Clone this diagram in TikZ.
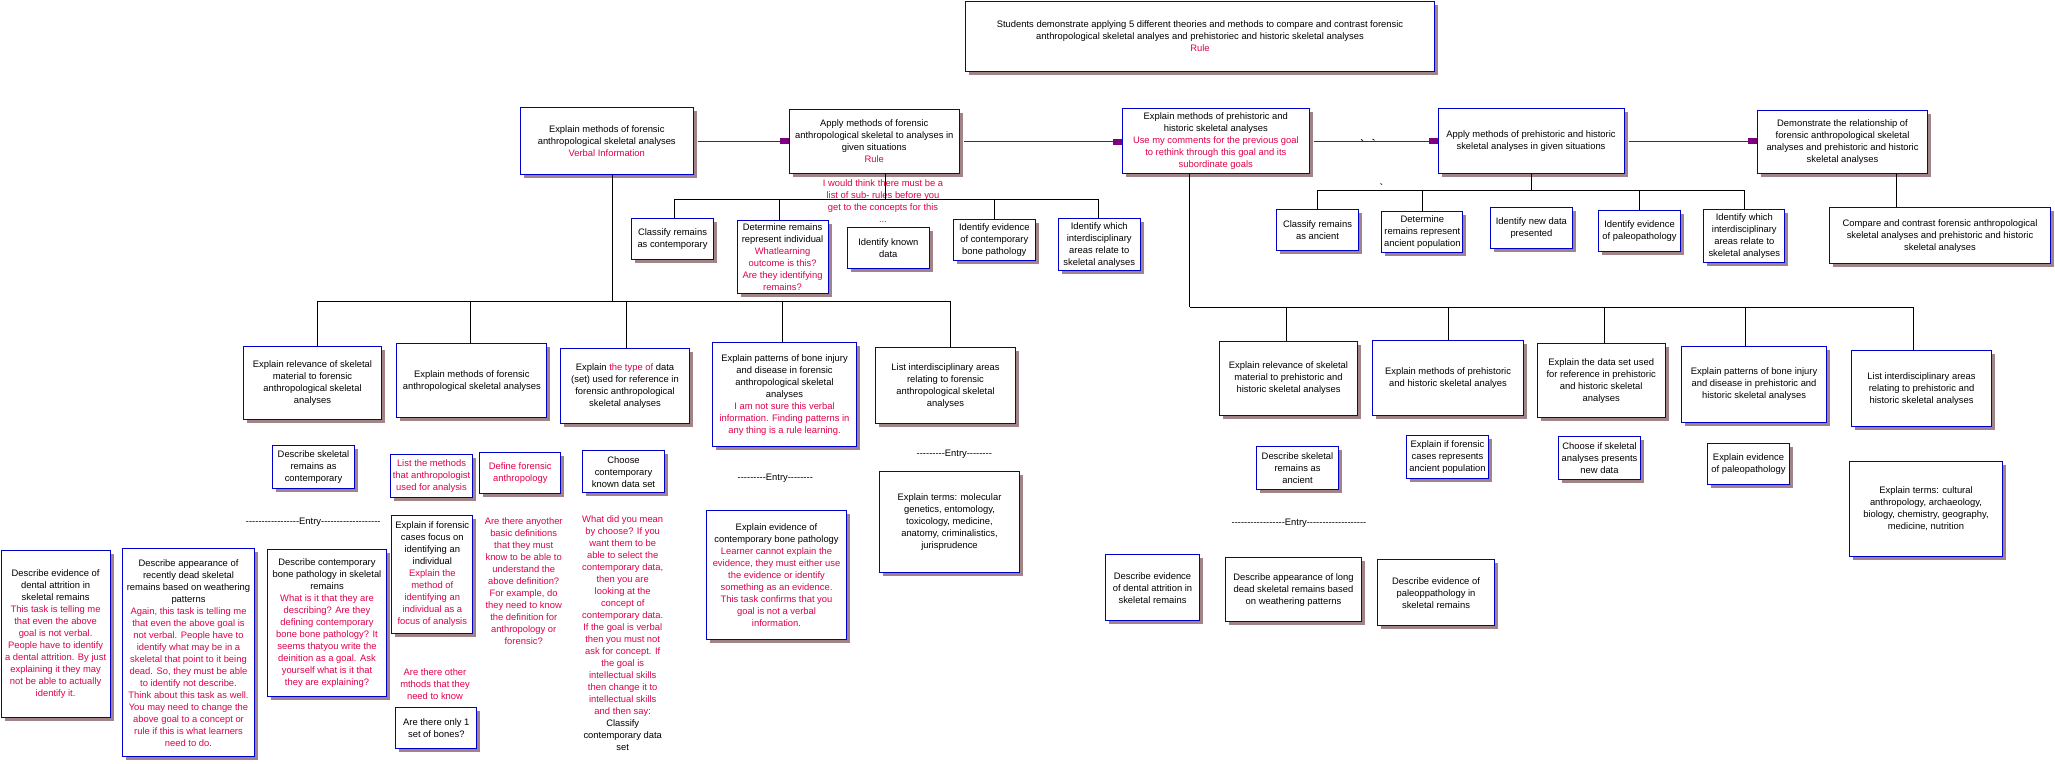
\documentclass[tikz,border=0pt]{standalone}
\usepackage{fontspec}
\setmainfont{Liberation Sans}
\usetikzlibrary{arrows.meta,shadows}
\definecolor{boxblue}{RGB}{0,0,204}
\definecolor{shadowc}{RGB}{160,132,136}
\definecolor{redc}{RGB}{226,0,74}
\definecolor{purplec}{RGB}{128,0,128}
\newcommand\redt[1]{\textcolor{redc}{#1}}
\newcommand\fs{\fontsize{9.4}{12}\selectfont}
\ExplSyntaxOn
\cs_new:Npn \myhy #1 {\prg_replicate:nn{#1}{-{}}}
\ExplSyntaxOff
\tikzset{
  box/.style={draw=boxblue, line width=1pt, fill=white, inner sep=0pt, align=center,
    font=\fs, text=black,
    drop shadow={shadow xshift=3.5pt, shadow yshift=-3.5pt, fill=shadowc, draw=none, opacity=1}},
  txt/.style={inner sep=0pt, align=center, font=\fs},
  conn/.style={draw=black, line width=1pt},
  parrow/.style={draw=purplec, line width=1pt, -{Rectangle[length=9pt,width=6pt]}, shorten <=4pt},
}
\newcommand\bx[6]{\node[box,anchor=north west,minimum width={(#4-#2)*1pt},minimum height={(#5-#3)*1pt}] (#1) at (#2,#3) {#6};}
\begin{document}
\begin{tikzpicture}[x=1pt,y=-1pt]
\useasboundingbox[fill=white] (0,0) rectangle (2055,763);

% ---------- top level ----------
\bx{T}{965}{1}{1434}{71}{Students demonstrate applying 5 different theories and methods to compare and contrast forensic\\anthropological skeletal analyes and prehistoriec and historic skeletal analyses\\\redt{Rule}}
\bx{A}{520}{107}{692.5}{174}{Explain methods of forensic\\anthropological skeletal analyses\\\redt{Verbal Information}}
\bx{B}{788.5}{109.3}{959}{172.7}{Apply methods of forensic\\anthropological skeletal to analyses in\\given situations\\\redt{Rule}}
\bx{D}{1122}{108.3}{1308.6}{173.3}{Explain methods of prehistoric and\\historic skeletal analyses\\\redt{Use my comments for the previous goal}\\\redt{to rethink through this goal and its}\\\redt{subordinate goals}}
\bx{E}{1437.5}{108.3}{1623.5}{172.7}{Apply methods of prehistoric and historic\\skeletal analyses in given situations}
\bx{F}{1757.3}{110.3}{1926.7}{173.3}{Demonstrate the relationship of\\forensic anthropological skeletal\\analyses and prehistoric and historic\\skeletal analyses}
\bx{G}{1829.3}{207.3}{2049.7}{263.3}{Compare and contrast forensic anthropological\\skeletal analyses and prehistoric and historic\\skeletal analyses}

% ---------- children of B ----------
\bx{C1}{631}{218.3}{713}{259.3}{Classify remains\\as contemporary}
\bx{C2}{736.5}{220.3}{827.6}{293.3}{Determine remains\\represent individual\\\redt{Whatlearning}\\\redt{outcome is this?}\\\redt{Are they identifying}\\\redt{remains?}}
\bx{C3}{847}{227.3}{928.6}{268.3}{Identify known\\data}
\bx{C4}{953}{219.3}{1034.6}{260}{Identify evidence\\of contemporary\\bone pathology}
\bx{C5}{1058}{218.3}{1139.5}{270.3}{Identify which\\interdisciplinary\\areas relate to\\skeletal analyses}

% ---------- children of E ----------
\bx{R1}{1276.4}{209.3}{1357.6}{250}{Classify remains\\as ancient}
\bx{R2}{1381.3}{211.3}{1462.4}{252.3}{Determine\\remains represent\\ancient population}
\bx{R3}{1490.3}{207.3}{1571.5}{248.3}{Identify new data\\presented}
\bx{R4}{1598.3}{210.3}{1679.8}{251.3}{Identify evidence\\of paleopathology}
\bx{R5}{1703.3}{209.3}{1784.3}{261.7}{Identify which\\interdisciplinary\\areas relate to\\skeletal analyses}

% ---------- children of A ----------
\bx{L1}{243.3}{346.3}{380.7}{419.3}{Explain relevance of skeletal\\material to forensic\\anthropological skeletal\\analyses}
\bx{L2}{396.3}{343.3}{546.3}{417.3}{Explain methods of forensic\\anthropological skeletal analyses}
\bx{L3}{560.3}{348.3}{688.7}{422.7}{Explain \redt{the type of} data\\(set) used for reference in\\forensic anthropological\\skeletal analyses}
\bx{L4}{712.3}{342.3}{855.7}{446.3}{Explain patterns of bone injury\\and disease in forensic\\anthropological skeletal\\analyses\\\redt{I am not sure this verbal}\\\redt{information. Finding patterns in}\\\redt{any thing is a rule learning.}}
\bx{L5}{875.3}{347.3}{1014.7}{423.3}{List interdisciplinary areas\\relating to  forensic\\anthropological skeletal\\analyses}

% ---------- children of D ----------
\bx{RL1}{1219.3}{341.3}{1356.7}{414.7}{Explain relevance of skeletal\\material to prehistoric and\\historic skeletal analyses}
\bx{RL2}{1372.3}{340.3}{1522.7}{414.7}{Explain methods of prehistoric\\and historic skeletal analyes}
\bx{RL3}{1536.7}{343.3}{1664.7}{417.3}{Explain the data set used\\for reference in prehistoric\\and historic skeletal\\analyses}
\bx{RL4}{1681.3}{346.3}{1825.7}{421.7}{Explain patterns of bone injury\\and disease in prehistoric and\\historic skeletal analyses}
\bx{RL5}{1851.3}{350.3}{1990.7}{426.3}{List interdisciplinary areas\\relating to prehistoric and\\historic skeletal analyses}

% ---------- small boxes, left ----------
\bx{S1}{272.3}{445.3}{353.7}{487.7}{Describe skeletal\\remains as\\contemporary}
\bx{S2}{390.3}{454.3}{471.7}{496.7}{\redt{List the methods}\\\redt{that anthropologist}\\\redt{used for analysis}}
\bx{S3}{479.3}{452}{560.3}{493.3}{\redt{Define forensic}\\\redt{anthropology}}
\bx{S4}{582.3}{450.3}{663.7}{492.3}{Choose\\contemporary\\known data set}
\bx{S5}{706.3}{510.3}{845.7}{639.3}{Explain evidence of\\contemporary bone pathology\\\redt{Learner cannot explain the}\\\redt{evidence, they must either use}\\\redt{the evidence or identify}\\\redt{something as an evidence.}\\\redt{This task confirms that you}\\\redt{goal is not a verbal}\\\redt{information.}}
\bx{S6}{879.3}{471}{1018.7}{572.3}{Explain terms: molecular\\genetics, entomology,\\toxicology, medicine,\\anatomy, criminalistics,\\jurisprudence}

% ---------- bottom left ----------
\bx{BL1}{0.5}{550.3}{109.7}{717.3}{Describe evidence of\\dental attrition in\\skeletal remains\\\redt{This task is telling me}\\\redt{that even the above}\\\redt{goal is not verbal.}\\\redt{People have to identify}\\\redt{a dental attrition. By just}\\\redt{explaining it they may}\\\redt{not be able to actually}\\\redt{identify it.}}
\bx{BL2}{122.3}{548.3}{253.7}{756.3}{Describe appearance of\\recently dead skeletal\\remains based on weathering\\patterns\\\redt{Again, this task is telling me}\\\redt{that even the above goal is}\\\redt{not verbal. People have to}\\\redt{identify what may be in a}\\\redt{skeletal that point to it being}\\\redt{dead. So, they must be able}\\\redt{to identify not describe.}\\\redt{Think about this task as well.}\\\redt{You may need to change the}\\\redt{above goal to a concept or}\\\redt{rule if this is what learners}\\\redt{need to do.}}
\bx{BL3}{267.3}{549.3}{385.7}{696.3}{Describe contemporary\\bone pathology in skeletal\\remains\\\redt{What is it that they are}\\\redt{describing? Are they}\\\redt{defining contemporary}\\\redt{bone bone pathology? It}\\\redt{seems thatyou write the}\\\redt{deinition as a goal. Ask}\\\redt{yourself what is it that}\\\redt{they are explaining?}}
\bx{BL4}{391.3}{514.7}{472.3}{633}{Explain if forensic\\cases focus on\\identifying an\\individual\\\redt{Explain the}\\\redt{method of}\\\redt{identifying an}\\\redt{individual as a}\\\redt{focus of analysis}}
\bx{BL5}{395.3}{707.3}{476.3}{748.3}{Are there only 1\\set of bones?}

% ---------- small boxes, right ----------
\bx{RS1}{1256.3}{446.3}{1337.7}{488.7}{Describe skeletal\\remains as\\ancient}
\bx{RS2}{1406.3}{435.3}{1487.7}{477.7}{Explain if forensic\\cases represents\\ancient population}
\bx{RS3}{1558.3}{436.3}{1639.7}{478.7}{Choose if skeletal\\analyses presents\\new data}
\bx{RS4}{1707.3}{443.3}{1788.7}{484.3}{Explain evidence\\of paleopathology}
\bx{RS5}{1849.3}{461.3}{2001.7}{555.7}{Explain terms: cultural\\anthropology, archaeology,\\biology, chemistry, geography,\\medicine, nutrition}
\bx{RB1}{1105.3}{554.3}{1198.7}{620.3}{Describe evidence\\of dental attrition in\\skeletal remains}
\bx{RB2}{1225.3}{557.3}{1360.7}{621.3}{Describe appearance of long\\dead skeletal remains based\\on weathering patterns}
\bx{RB3}{1377.3}{559.3}{1493.7}{625.3}{Describe evidence of\\paleoppathology in\\skeletal remains}

% ---------- free notes ----------
\node[txt,text=redc] (NB) at (883,200.7) {I would think there must be a\\list of sub- rules before you\\get to the concepts for this\\...};
\node[txt,text=redc] (N1) at (435,683.7) {Are there other\\mthods that they\\need to know};
\node[txt,text=redc] (N2) at (523.7,580.7) {Are there anyother\\basic definitions\\that they must\\know to be able to\\understand the\\above definition?\\For example, do\\they need to know\\the definition for\\anthropology or\\forensic?};
\node[txt] (N3) at (622.7,632.7) {\redt{What did you mean}\\\redt{by choose? If you}\\\redt{want them to be}\\\redt{able to select the}\\\redt{contemporary data,}\\\redt{then you are}\\\redt{looking at the}\\\redt{concept of}\\\redt{contemporary data.}\\\redt{If the goal is verbal}\\\redt{then you must not}\\\redt{ask for concept. If}\\\redt{the goal is}\\\redt{intellectual skills}\\\redt{then change it to}\\\redt{intellectual skills}\\\redt{and then say:}\\Classify\\contemporary data\\set};
\node[txt] (EN1) at (313.3,522) {\myhy{17}Entry\myhy{19}};
\node[txt] (EN2) at (775.3,478) {\myhy{9}Entry\myhy{8}};
\node[txt] (EN3) at (954.3,454.7) {\myhy{9}Entry\myhy{8}};
\node[txt] (EN4) at (1299,523) {\myhy{17}Entry\myhy{19}};

% ---------- purple arrows ----------
\draw[parrow] (A.east) -- (A.east -| B.west);
\draw[parrow] (B.east) -- (B.east -| D.west);
\draw[parrow] (D.east) -- (D.east -| E.west);
\draw[parrow] (E.east) -- (E.east -| F.west);
\draw[line width=0.7pt] (1361,139.3) -- (1363,140.6);
\draw[line width=0.7pt] (1372.5,139) -- (1374.5,140.3);
\draw[line width=0.7pt] (1380.5,183.5) -- (1382,184.6);

% ---------- connectors ----------
\coordinate (busC) at (0,199.3);
\coordinate (busR) at (0,190.3);
\coordinate (busL) at (0,301.3);
\coordinate (busD) at (0,307.3);
% B to its children
\draw[conn] (B.south -| 885,0) -- (885,0 |- busC);
\draw[conn] (674.5,0 |- busC) -- (1098,0 |- busC);
\foreach \n/\x in {C1/674.5,C2/779.7,C4/994.5,C5/1098}
  \draw[conn] (\n.north -| \x,0) -- (\x,0 |- busC);
% E to its children
\draw[conn] (E.south) -- (E.south |- busR);
\draw[conn] (R1.north |- busR) -- (R5.north |- busR);
\foreach \n in {R1,R2,R4,R5}
  \draw[conn] (\n.north) -- (\n.north |- busR);
% A to its children
\draw[conn] (A.south -| 612.3,0) -- (612.3,0 |- busL);
\draw[conn] (317.3,0 |- busL) -- (950,0 |- busL);
\foreach \n/\x in {L1/317.3,L2/470.3,L3/626.3,L4/782.7,L5/950}
  \draw[conn] (\n.north -| \x,0) -- (\x,0 |- busL);
% D to its children
\draw[conn] (D.south -| 1189.7,0) -- (1189.7,0 |- busD);
\draw[conn] (1189.7,0 |- busD) -- (1913.3,0 |- busD);
\foreach \n/\x in {RL1/1286.3,RL2/1448.3,RL3/1604.3,RL4/1745.3,RL5/1913.3}
  \draw[conn] (\n.north -| \x,0) -- (\x,0 |- busD);
% F to G
\draw[conn] (F.south -| 1896.3,0) -- (G.north -| 1896.3,0);
\end{tikzpicture}
\end{document}
